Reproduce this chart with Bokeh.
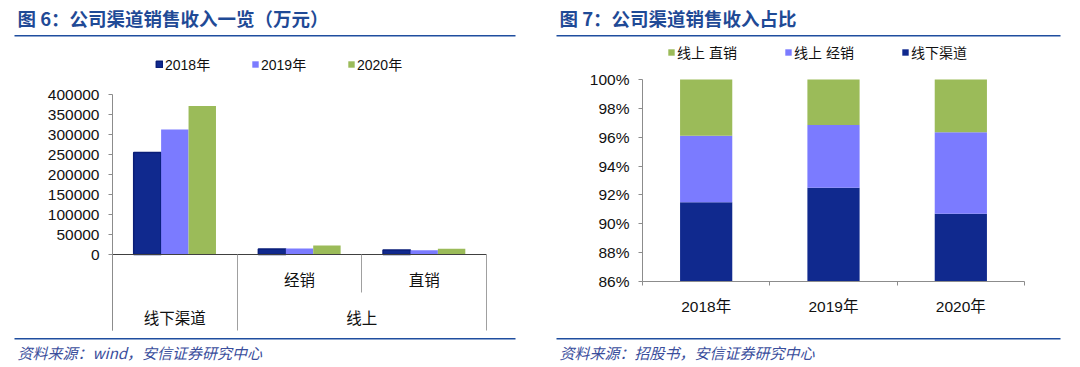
from bokeh.plotting import figure
from bokeh.models import (Range1d, LinearAxis, FixedTicker, Label, BoxAnnotation,
                          Legend, LegendItem, ColumnDataSource, PrintfTickFormatter)
from bokeh.transform import dodge
from bokeh.layouts import row
from bokeh.embed import file_html
from bokeh.resources import INLINE

# ---------------- data ----------------
channels = ["线下渠道", "经销", "直销"]          # sub categories (left chart)
channel_groups = ["线下渠道", "线上", "线上"]     # parent group of each channel
years = ["2018年", "2019年", "2020年"]

# left chart: revenue by channel (万元)
rev_2018 = [255000, 13500, 11500]
rev_2019 = [312500, 14800, 10800]
rev_2020 = [371000, 22800, 14500]
rev_ticks = [0, 50000, 100000, 150000, 200000, 250000, 300000, 350000, 400000]

# right chart: share of revenue (%)
share_offline = [91.5, 92.5, 90.7]     # 线下渠道
share_dist = [4.6, 4.35, 5.65]         # 线上 经销
share_direct = [3.9, 3.15, 3.65]       # 线上 直销
share_ticks = [86, 88, 90, 92, 94, 96, 98, 100]

# ---------------- style ----------------
DARK = "#10298E"
DARK_EDGE = "#0A1E78"
LAV = "#7B7BFF"
GREEN = "#9BBB59"
TITLE_C = "#1F4A96"
RULE_C = "#1F4E9F"
NOTE_C = "#3A4E9C"
AXIS_C = "#8C8C8C"
FONT = "'Liberation Sans', 'Noto Sans CJK SC', sans-serif"
CJK = "'Noto Sans CJK SC', sans-serif"
W, H = 540, 367


def decorate(p, title, note, tx, rule_l, rule_r):
    p.add_layout(Label(x=tx, y=H - 17, x_units="screen", y_units="screen", text=title,
                       text_font=CJK, text_font_size="18.5px", text_font_style="bold",
                       text_color=TITLE_C, text_baseline="middle"))
    for b in (H - 36, 28):
        p.add_layout(BoxAnnotation(left=rule_l, right=rule_r, bottom=b, top=b + 1.6,
                                   left_units="screen", right_units="screen",
                                   bottom_units="screen", top_units="screen",
                                   fill_color=RULE_C, fill_alpha=1, line_color=None,
                                   level="overlay"))
    p.add_layout(Label(x=tx, y=15, x_units="screen", y_units="screen", text=note,
                       text_font=CJK, text_font_size="15px", text_font_style="italic",
                       text_color=NOTE_C, text_baseline="middle"))


def base_fig(xr, yr):
    p = figure(width=W, height=H, x_range=xr, y_range=yr, output_backend="svg",
               toolbar_location=None, x_axis_type=None, y_axis_type=None, min_border=0)
    p.outline_line_color = None
    p.background_fill_color = "white"
    p.border_fill_color = "white"
    return p


# ================= left chart =================
pos = [2 * i + 1 for i in range(len(channels))]           # category centres
bounds_x = [2 * i for i in range(len(channels) + 1)]       # category boundaries
src1 = ColumnDataSource(dict(x=pos, y18=rev_2018, y19=rev_2019, y20=rev_2020))

p1 = base_fig(Range1d(-1.7968, 6.8663), Range1d(-282500, 635000))
bw = 0.44
r18 = p1.vbar(x=dodge("x", -bw, range=p1.x_range), top="y18", bottom=0, width=bw, source=src1,
              fill_color=DARK, line_color=DARK_EDGE, line_width=1.5)
r19 = p1.vbar(x=dodge("x", 0, range=p1.x_range), top="y19", bottom=0, width=bw, source=src1,
              fill_color=LAV, line_color=None)
r20 = p1.vbar(x=dodge("x", bw, range=p1.x_range), top="y20", bottom=0, width=bw, source=src1,
              fill_color=GREEN, line_color=None)

ya1 = LinearAxis(fixed_location=0, bounds=(-190000, max(rev_ticks)),
                 ticker=FixedTicker(ticks=rev_ticks), formatter=PrintfTickFormatter(format="%d"),
                 axis_line_color=AXIS_C, major_tick_line_color=AXIS_C, major_tick_out=4,
                 major_tick_in=0, minor_tick_line_color=None, major_label_standoff=9,
                 major_label_text_font=FONT, major_label_text_font_size="15.5px",
                 major_label_text_color="#111111")
p1.add_layout(ya1, "left")

# axis line at zero with long separators at the group boundaries
group_bounds = [b for b in bounds_x if b in (0, 2, 6)]
xa1 = LinearAxis(fixed_location=0, bounds=(0, bounds_x[-1]),
                 ticker=FixedTicker(ticks=group_bounds),
                 axis_line_color="#404040", major_tick_line_color="#A0A0A0", major_tick_out=76,
                 major_tick_in=0, minor_tick_line_color=None, major_label_text_color=None)
p1.add_layout(xa1, "below")
# short separator between sub-channels of the same group
xa1b = LinearAxis(fixed_location=0, ticker=FixedTicker(ticks=[b for b in bounds_x if b not in group_bounds]),
                  axis_line_color=None, major_tick_line_color="#A0A0A0", major_tick_out=38,
                  major_tick_in=0, minor_tick_line_color=None, major_label_text_color=None)
p1.add_layout(xa1b, "below")
# sub-channel labels
sub = {x: c for x, c, g in zip(pos, channels, channel_groups) if c != g}
xa1c = LinearAxis(fixed_location=0, ticker=FixedTicker(ticks=list(sub.keys())),
                  major_label_overrides=sub, axis_line_color=None, major_tick_line_color=None,
                  major_tick_out=0, major_tick_in=0, minor_tick_line_color=None,
                  major_label_standoff=17, major_label_text_font=FONT,
                  major_label_text_font_size="15.5px", major_label_text_color="#111111")
p1.add_layout(xa1c, "below")
# group labels
grp = {}
for g in dict.fromkeys(channel_groups):
    xs = [x for x, gg in zip(pos, channel_groups) if gg == g]
    grp[int(sum(xs) / len(xs))] = g
xa1d = LinearAxis(fixed_location=0, ticker=FixedTicker(ticks=list(grp.keys())),
                  major_label_overrides=grp, axis_line_color=None, major_tick_line_color=None,
                  major_tick_out=0, major_tick_in=0, minor_tick_line_color=None,
                  major_label_standoff=55, major_label_text_font=FONT,
                  major_label_text_font_size="15.5px", major_label_text_color="#111111")
p1.add_layout(xa1d, "below")

leg1 = Legend(items=[LegendItem(label=years[0], renderers=[r18]),
                     LegendItem(label=years[1], renderers=[r19]),
                     LegendItem(label=years[2], renderers=[r20])],
              orientation="horizontal", location=(155, 293), glyph_width=8, glyph_height=8,
              label_standoff=2, spacing=40, label_width=46, label_height=16, padding=0, margin=0,
              border_line_color=None, background_fill_alpha=0,
              label_text_font=FONT, label_text_font_size="14px", label_text_color="#111111")
p1.add_layout(leg1)
decorate(p1, "图 6：公司渠道销售收入一览（万元）", "资料来源：wind，安信证券研究中心", 17, 14, 515)

# ================= right chart =================
pos2 = [2 * i + 1 for i in range(len(years))]
base = min(share_ticks)
off_top = [a for a in share_offline]
dist_top = [a + b for a, b in zip(share_offline, share_dist)]
dir_top = [a + b + c for a, b, c in zip(share_offline, share_dist, share_direct)]
src2 = ColumnDataSource(dict(x=pos2, off_top=off_top, dist_top=dist_top, dir_top=dir_top,
                             off_bot=[base] * len(pos2)))

p2 = base_fig(Range1d(-1.6021, 6.8796), Range1d(80.040, 105.475))
bw2 = 0.82
s_off = p2.vbar(x="x", bottom="off_bot", top="off_top", width=bw2, source=src2,
                fill_color=DARK, line_color=None)
s_dist = p2.vbar(x="x", bottom="off_top", top="dist_top", width=bw2, source=src2,
                 fill_color=LAV, line_color=None)
s_dir = p2.vbar(x="x", bottom="dist_top", top="dir_top", width=bw2, source=src2,
                fill_color=GREEN, line_color=None)

ya2 = LinearAxis(fixed_location=0, bounds=(min(share_ticks), max(share_ticks)),
                 ticker=FixedTicker(ticks=share_ticks), formatter=PrintfTickFormatter(format="%d%%"),
                 axis_line_color=AXIS_C, major_tick_line_color=AXIS_C, major_tick_out=4,
                 major_tick_in=0, minor_tick_line_color=None, major_label_standoff=9,
                 major_label_text_font=FONT, major_label_text_font_size="15.5px",
                 major_label_text_color="#111111")
p2.add_layout(ya2, "left")
bounds2 = [2 * i for i in range(len(years) + 1)]
xa2 = LinearAxis(fixed_location=base, bounds=(0, bounds2[-1]), ticker=FixedTicker(ticks=bounds2),
                 axis_line_color=AXIS_C, major_tick_line_color=AXIS_C, major_tick_out=4,
                 major_tick_in=0, minor_tick_line_color=None, major_label_text_color=None)
p2.add_layout(xa2, "below")
xa2b = LinearAxis(fixed_location=base, ticker=FixedTicker(ticks=pos2),
                  major_label_overrides={x: y for x, y in zip(pos2, years)},
                  axis_line_color=None, major_tick_line_color=None, major_tick_out=0,
                  major_tick_in=0, minor_tick_line_color=None, major_label_standoff=16,
                  major_label_text_font=FONT, major_label_text_font_size="15.5px",
                  major_label_text_color="#111111")
p2.add_layout(xa2b, "below")

leg2 = Legend(items=[LegendItem(label="线上 直销", renderers=[s_dir]),
                     LegendItem(label="线上 经销", renderers=[s_dist]),
                     LegendItem(label="线下渠道", renderers=[s_off])],
              orientation="horizontal", location=(127, 305), glyph_width=8, glyph_height=8,
              label_standoff=2, spacing=47, label_width=60, label_height=16, padding=0, margin=0,
              border_line_color=None, background_fill_alpha=0,
              label_text_font=FONT, label_text_font_size="14px", label_text_color="#111111")
p2.add_layout(leg2)
decorate(p2, "图 7：公司渠道销售收入占比", "资料来源：招股书，安信证券研究中心", 19, 16, 520)

layout = row(p1, p2, spacing=0)
open("out.html", "w").write(file_html(layout, INLINE))
